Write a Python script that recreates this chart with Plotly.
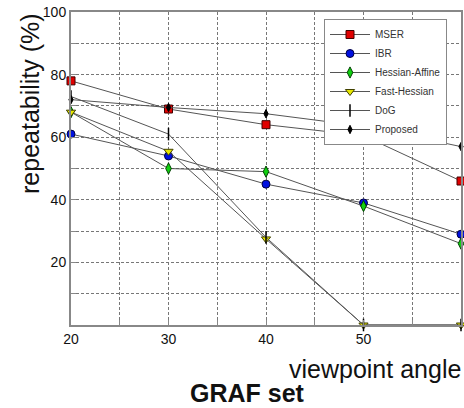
import plotly.graph_objects as go

angles = [20, 30, 40, 50, 60]
mser = [78, 69, 64, 60.5, 46]
ibr = [61, 54, 45, 39, 29]
hessian_affine = [68, 50, 49, 38, 26]
fast_hessian = [68, 55.5, 27.5, 0, 0]
dog = [73, 61, 28, 0, 0]
proposed = [72, 69.5, 67.5, 63.5, 57]

x_tickvals = [20, 25, 30, 35, 40, 45, 50, 55, 60]
x_ticktext = ["20", "", "30", "", "40", "", "50", "", "60"]
y_tickvals = [0, 10, 20, 30, 40, 50, 60, 70, 80, 90, 100]
y_ticktext = ["", "", "20", "", "40", "", "60", "", "80", "", "100"]

series = [
    ("MSER", mser, dict(symbol="square", size=8, color="#e00000", line=dict(color="#400000", width=1))),
    ("IBR", ibr, dict(symbol="circle", size=8, color="#0010e0", line=dict(color="#000040", width=1))),
    ("Hessian-Affine", hessian_affine, dict(symbol="diamond-tall", size=8, color="#10d010", line=dict(color="#004000", width=1))),
    ("Fast-Hessian", fast_hessian, dict(symbol="triangle-down", size=8, color="#e8e800", line=dict(color="#404000", width=1))),
    ("DoG", dog, dict(symbol="line-ns", size=9, color="#000000", line=dict(color="#000000", width=1.5))),
    ("Proposed", proposed, dict(symbol="diamond-tall", size=6, color="#000000", line=dict(color="#000000", width=1))),
]

fig = go.Figure()
for name, vals, mk in series:
    fig.add_trace(go.Scatter(
        x=angles, y=vals, name=name, mode="lines+markers",
        line=dict(color="#555555", width=1),
        marker=mk, cliponaxis=False,
    ))

axis_common = dict(
    showline=True, linecolor="#888888", linewidth=2, mirror=True,
    showgrid=True, gridcolor="#777777", griddash="3px,2px", gridwidth=1,
    ticks="inside", ticklen=5, tickcolor="#888888", zeroline=False,
    automargin=False,
    tickfont=dict(family="Liberation Sans", size=14, color="#111111"),
)

pw = 464 - 71 - 3
ph = 408 - 12 - 83

fig.update_layout(
    width=464, height=408,
    margin=dict(l=71, r=3, t=12, b=83),
    plot_bgcolor="white", paper_bgcolor="white",
    showlegend=True,
    legend=dict(
        x=(324 - 71) / pw, y=(325 - 19) / ph, xanchor="left", yanchor="top",
        bgcolor="white", bordercolor="#888888", borderwidth=1,
        font=dict(family="Liberation Sans", size=10, color="#333333"),
        itemwidth=40, tracegroupgap=0,
    ),
    xaxis=dict(range=[20, 60], tickvals=x_tickvals, ticktext=x_ticktext, **axis_common),
    yaxis=dict(range=[0, 100], tickvals=y_tickvals, ticktext=y_ticktext, **axis_common),
    annotations=[
        dict(text="repeatability (%)", x=(30 - 71) / pw, y=(325 - 104) / ph,
             xref="paper", yref="paper", xanchor="center", yanchor="middle",
             showarrow=False, textangle=-90,
             font=dict(family="Liberation Sans", size=25, color="#111111")),
        dict(text="viewpoint angle", x=1.0, y=0, xref="paper", yref="paper",
             xanchor="right", yanchor="top", yshift=-28, xshift=2,
             showarrow=False,
             font=dict(family="Liberation Sans", size=25, color="#111111")),
        dict(text="<b>GRAF set</b>", x=(247 - 71) / pw, y=(325 - 393) / ph,
             xref="paper", yref="paper", xanchor="center", yanchor="middle",
             showarrow=False,
             font=dict(family="Liberation Sans", size=25, color="#111111")),
    ],
)

fig.write_html(
    "out.html",
    config={"displayModeBar": False},
    post_script="document.body.style.margin='0';document.body.style.overflow='hidden';",
)
